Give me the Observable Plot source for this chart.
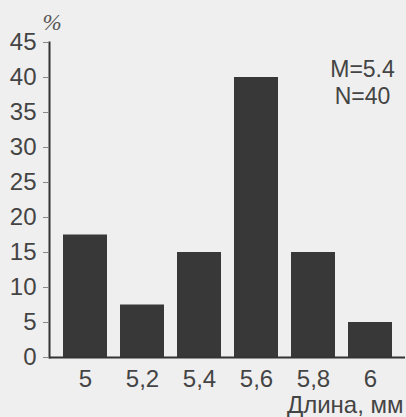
<!DOCTYPE html>
<html>
<head>
<meta charset="utf-8">
<script src="https://cdn.jsdelivr.net/npm/d3@7"></script>
<script src="https://cdn.jsdelivr.net/npm/@observablehq/plot@0.6"></script>
<style>
  html, body { margin: 0; padding: 0; background: #efefef; }
  #chart svg { display: block; }
</style>
</head>
<body>
<div id="chart"></div>
<script>
const lengths = ["5", "5,2", "5,4", "5,6", "5,8", "6"];
const percents = [17.5, 7.5, 15, 40, 15, 5];
const yTicks = [0, 5, 10, 15, 20, 25, 30, 35, 40, 45];
const yUnit = "%";
const xTitle = "Длина, мм";
const statLines = ["M=5.4", "N=40"];

const data = lengths.map((l, i) => ({length: l, pct: percents[i]}));

const ink = "#333333";

const chart = Plot.plot({
  width: 406,
  height: 417,
  marginLeft: 49,
  marginRight: 1,
  marginTop: 42,
  marginBottom: 60,
  style: {
    background: "#efefef",
    color: ink,
    fontFamily: "'Liberation Sans', Arial, sans-serif",
    fontSize: "24px"
  },
  x: {domain: lengths, paddingInner: 0.23, paddingOuter: 0.227, label: null},
  y: {domain: [0, 45], label: null},
  marks: [
    Plot.barY(data, {x: "length", y: "pct", fill: "#383838"}),
    Plot.ruleY([0], {stroke: ink, strokeWidth: 2}),
    Plot.frame({anchor: "left", stroke: ink, strokeWidth: 2}),
    Plot.axisY({ticks: yTicks, tickSize: 6, tickPadding: 7, label: null, stroke: "#888", fill: "#444", fontSize: 24}),
    Plot.axisX({tickSize: 0, tickPadding: 12, label: null, fill: "#444", fontSize: 24}),
    Plot.text([yUnit], {frameAnchor: "top-left", dx: -7, dy: -29, text: d => d, fontSize: 23, fontStyle: "italic", fontFamily: "'Liberation Serif', 'Times New Roman', serif", fill: "#555"}),
    Plot.text([statLines[0]], {frameAnchor: "top-right", dx: -43, dy: 18, text: d => d, textAnchor: "middle", fontSize: 23, fill: "#444"}),
    Plot.text([statLines[1]], {frameAnchor: "top-right", dx: -43, dy: 45, text: d => d, textAnchor: "middle", fontSize: 23, fill: "#444"}),
    Plot.text([xTitle], {frameAnchor: "bottom-right", dx: -2, dy: 55, text: d => d, textAnchor: "end", lineAnchor: "bottom", fontSize: 24, fill: "#444"})
  ]
});

document.getElementById("chart").appendChild(chart);
</script>
</body>
</html>
